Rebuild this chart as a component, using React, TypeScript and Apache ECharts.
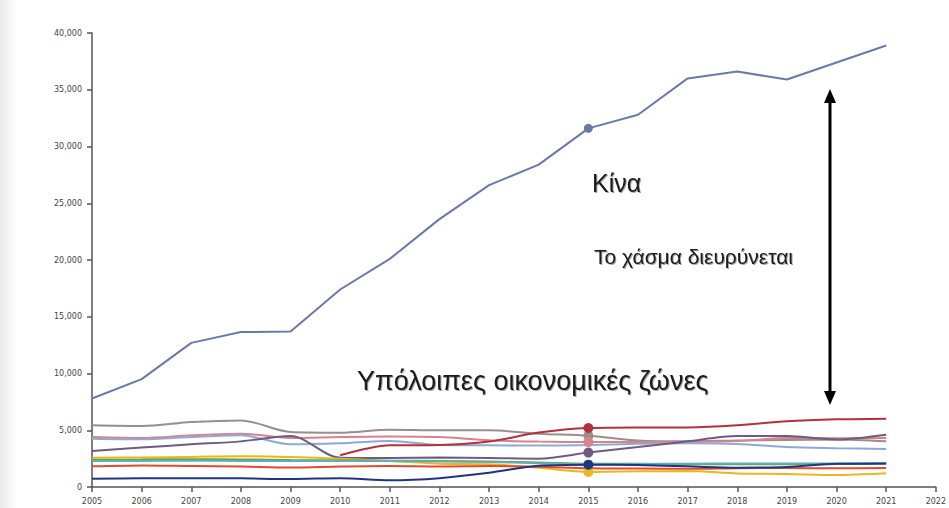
import React, { useEffect, useRef } from "react";
import * as echarts from "echarts";

const years = [2005, 2006, 2007, 2008, 2009, 2010, 2011, 2012, 2013, 2014, 2015, 2016, 2017, 2018, 2019, 2020, 2021];

const china = [7800, 9500, 12700, 13650, 13700, 17400, 20100, 23600, 26600, 28400, 31600, 32800, 36000, 36600, 35900, 37400, 38900];
const darkRed = [null, null, null, null, null, 2790, 3670, 3700, 4000, 4800, 5200, 5250, 5250, 5430, 5790, 5960, 6020];
const taupe = [5430, 5370, 5720, 5870, 4850, 4790, 5050, 4990, 4990, 4700, 4520, 4100, 4020, 4100, 4150, 4180, 4020];
const pink = [4400, 4320, 4550, 4700, 4320, 4400, 4450, 4400, 4110, 4000, 3960, 3960, 3980, 4050, 4320, 4300, 4320];
const lightBlue = [4250, 4200, 4400, 4550, 3760, 3850, 4050, 3700, 3670, 3650, 3700, 3800, 3850, 3780, 3520, 3420, 3350];
const purple = [3170, 3480, 3760, 4020, 4490, 2580, 2560, 2600, 2560, 2500, 3030, 3520, 4030, 4490, 4490, 4190, 4610];
const yellow = [2580, 2600, 2650, 2720, 2640, 2500, 2300, 2050, 2000, 1700, 1330, 1380, 1400, 1200, 1150, 1060, 1210];
const green = [2400, 2420, 2450, 2430, 2380, 2350, 2320, 2290, 2250, 2150, 2050, 2050, 2000, 2020, 2000, 2020, 2050];
const teal = [2290, 2300, 2320, 2300, 2280, 2300, 2280, 2250, 2200, 2100, 2000, 2030, 2050, 2080, 2060, 2080, 2100];
const red = [1820, 1900, 1850, 1800, 1720, 1800, 1850, 1800, 1850, 1780, 1650, 1620, 1600, 1650, 1670, 1650, 1670];
const navy = [730, 760, 780, 760, 700, 780, 600, 780, 1250, 1880, 1970, 1930, 1820, 1700, 1760, 2050, 2060];

const xTicks = [2005, 2022];
const yTicks = [0, 40000, 5000];

const chinaLabel = "Κίνα";
const gapLabel = "Το χάσμα διευρύνεται";
const restLabel = "Υπόλοιπες οικονομικές ζώνες";

type S = { name: string; values: (number | null)[]; color: string; marker: boolean; smooth: number };

const lowerSeries: S[] = [
  { name: "taupe", values: taupe, color: "#9c8d86", marker: true, smooth: 0.3 },
  { name: "pink", values: pink, color: "#d9818c", marker: true, smooth: 0.3 },
  { name: "lightBlue", values: lightBlue, color: "#8eaad2", marker: false, smooth: 0.3 },
  { name: "purple", values: purple, color: "#6f5a84", marker: true, smooth: 0.3 },
  { name: "darkRed", values: darkRed, color: "#b2313e", marker: true, smooth: 0.3 },
  { name: "yellow", values: yellow, color: "#e8b81e", marker: true, smooth: 0.3 },
  { name: "green", values: green, color: "#6ea044", marker: false, smooth: 0.3 },
  { name: "teal", values: teal, color: "#5eb0b8", marker: false, smooth: 0.3 },
  { name: "red", values: red, color: "#e24a2c", marker: false, smooth: 0.3 },
  { name: "navy", values: navy, color: "#1e3682", marker: true, smooth: 0.3 },
];

const textShadow = {
  textShadowColor: "rgba(0,0,0,0.35)",
  textShadowBlur: 1.5,
  textShadowOffsetX: 1,
  textShadowOffsetY: 1,
};

export default function App() {
  const ref = useRef<HTMLDivElement>(null);
  useEffect(() => {
    if (!ref.current) return;
    const chart = echarts.init(ref.current, null, { renderer: "svg" });
    const mk = (s: S) => ({
      type: "line",
      name: s.name,
      data: years.map((y, i) => [y, s.values[i] == null ? "-" : s.values[i]]),
      smooth: s.smooth,
      showSymbol: true,
      symbol: "circle",
      symbolSize: (_v: any, p: any) => (s.marker && p.dataIndex === 10 ? 10 : 0),
      lineStyle: { color: s.color, width: 2 },
      itemStyle: { color: s.color },
      z: 2,
    });
    const allSeries: any[] = lowerSeries.map(mk);
    allSeries.push({
      type: "line",
      name: "china",
      data: years.map((y, i) => [y, china[i]]),
      showSymbol: true,
      symbol: "circle",
      symbolSize: (_v: any, p: any) => (p.dataIndex === 10 ? 9 : 0),
      lineStyle: { color: "#6b78aa", width: 2 },
      itemStyle: { color: "#6b78aa" },
      z: 3,
    });
    chart.setOption({
      animation: false,
      backgroundColor: "#ffffff",
      grid: { left: 92, right: 9, top: 33, bottom: 21 },
      xAxis: {
        type: "value",
        min: xTicks[0],
        max: xTicks[1],
        interval: 1,
        axisLine: { lineStyle: { color: "#555", width: 1.5 } },
        axisTick: { show: true, length: 5, lineStyle: { color: "#555", width: 1.5 } },
        axisLabel: { color: "#444", fontSize: 8, fontFamily: "DejaVu Sans", margin: 10, formatter: (v: number) => String(v), showMaxLabel: true },
        splitLine: { show: false },
      },
      yAxis: {
        type: "value",
        min: yTicks[0],
        max: yTicks[1],
        interval: yTicks[2],
        axisLine: { show: true, lineStyle: { color: "#555", width: 1.5 } },
        axisTick: { show: true, length: 5, lineStyle: { color: "#555", width: 1.5 } },
        axisLabel: {
          color: "#444",
          fontSize: 8,
          fontFamily: "DejaVu Sans",
          margin: 10,
          formatter: (v: number) => v.toLocaleString("en-US"),
        },
        splitLine: { show: false },
      },
      series: allSeries,
      graphic: [
        {
          type: "rect",
          shape: { x: 0, y: 0, width: 16, height: 508 },
          style: {
            fill: new echarts.graphic.LinearGradient(0, 0, 1, 0, [
              { offset: 0, color: "#e9e9e9" },
              { offset: 1, color: "#ffffff" },
            ]),
          },
          z: -1,
        },
        {
          type: "text",
          left: 592,
          top: 170,
          style: { text: chinaLabel, fill: "#1a1a1a", font: "25px 'Liberation Sans', Arial, sans-serif", ...textShadow },
        },
        {
          type: "text",
          left: 594,
          top: 246,
          style: { text: gapLabel, fill: "#1a1a1a", font: "21px 'Liberation Sans', Arial, sans-serif", ...textShadow },
        },
        {
          type: "text",
          left: 357,
          top: 367,
          style: { text: restLabel, fill: "#1a1a1a", font: "27px 'Liberation Sans', Arial, sans-serif", ...textShadow },
        },
        {
          type: "line",
          shape: { x1: 830, y1: 100, x2: 830, y2: 395 },
          style: { stroke: "#000", lineWidth: 3 },
        },
        {
          type: "polygon",
          shape: { points: [[830, 89], [824, 103], [836, 103]] },
          style: { fill: "#000" },
        },
        {
          type: "polygon",
          shape: { points: [[830, 405], [824, 391], [836, 391]] },
          style: { fill: "#000" },
        },
      ],
    });
    return () => chart.dispose();
  }, []);
  return <div ref={ref} style={{ position: "fixed", left: 0, top: 0, width: 949, height: 508 }} />;
}
